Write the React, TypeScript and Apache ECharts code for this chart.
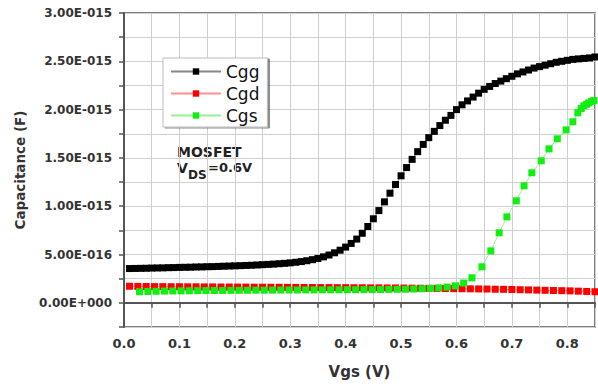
import React, { useEffect, useRef } from "react";
import * as echarts from "echarts";

// Values in units of 1e-15 F (fF)
const cggX = [
  0.01, 0.02, 0.03, 0.04, 0.05, 0.06, 0.07, 0.08, 0.09, 0.1,
  0.11, 0.12, 0.13, 0.14, 0.15, 0.16, 0.17, 0.18, 0.19, 0.2,
  0.21, 0.22, 0.23, 0.24, 0.25, 0.26, 0.27, 0.28, 0.29, 0.3,
  0.31, 0.32, 0.33, 0.34, 0.35, 0.36, 0.37, 0.38, 0.39, 0.4,
  0.41, 0.42, 0.43, 0.44, 0.45, 0.46, 0.47, 0.48, 0.49, 0.5,
  0.51, 0.52, 0.53, 0.54, 0.55, 0.56, 0.57, 0.58, 0.59, 0.6,
  0.61, 0.62, 0.63, 0.64, 0.65, 0.66, 0.67, 0.68, 0.69, 0.7,
  0.71, 0.72, 0.73, 0.74, 0.75, 0.76, 0.77, 0.78, 0.79, 0.8,
  0.81, 0.82, 0.83, 0.84, 0.85,
];
const cggY = [
  0.355, 0.356, 0.357, 0.358, 0.36, 0.361, 0.362, 0.364, 0.365, 0.367,
  0.368, 0.369, 0.371, 0.372, 0.374, 0.375, 0.377, 0.379, 0.381, 0.383,
  0.385, 0.387, 0.389, 0.392, 0.395, 0.398, 0.401, 0.405, 0.409, 0.414,
  0.42, 0.427, 0.436, 0.447, 0.46, 0.476, 0.495, 0.518, 0.545, 0.577,
  0.615, 0.66, 0.72, 0.79, 0.87, 0.955, 1.045, 1.135, 1.225, 1.315,
  1.4, 1.485, 1.565, 1.64, 1.71, 1.775, 1.835, 1.89, 1.94, 2.0,
  2.05, 2.09, 2.13, 2.17, 2.21, 2.24, 2.27, 2.295, 2.32, 2.345,
  2.37, 2.39, 2.41, 2.43, 2.445, 2.46, 2.475, 2.49, 2.5, 2.51,
  2.52, 2.525, 2.53, 2.535, 2.545,
];

const cgdX = [
  0.01, 0.025, 0.04, 0.055, 0.07, 0.085, 0.1, 0.115, 0.13, 0.145,
  0.16, 0.175, 0.19, 0.205, 0.22, 0.235, 0.25, 0.265, 0.28, 0.295,
  0.31, 0.325, 0.34, 0.355, 0.37, 0.385, 0.4, 0.415, 0.43, 0.445,
  0.46, 0.475, 0.49, 0.505, 0.52, 0.535, 0.55, 0.565, 0.58, 0.595,
  0.61, 0.625, 0.64, 0.655, 0.67, 0.685, 0.7, 0.715, 0.73, 0.745,
  0.76, 0.775, 0.79, 0.805, 0.82, 0.835, 0.85,
];
const cgdY = [
  0.172, 0.17, 0.169, 0.168, 0.168, 0.167, 0.167, 0.166, 0.166, 0.165,
  0.165, 0.164, 0.164, 0.163, 0.163, 0.162, 0.162, 0.161, 0.161, 0.16,
  0.16, 0.159, 0.159, 0.158, 0.158, 0.157, 0.157, 0.156, 0.156, 0.155,
  0.155, 0.154, 0.154, 0.153, 0.152, 0.151, 0.15, 0.149, 0.148, 0.147,
  0.146, 0.145, 0.144, 0.143, 0.141, 0.14, 0.138, 0.136, 0.134, 0.132,
  0.13, 0.128, 0.126, 0.124, 0.121, 0.118, 0.115,
];

const cgsX = [
  0.028, 0.043, 0.058, 0.073, 0.088, 0.103, 0.118, 0.133, 0.148, 0.163,
  0.178, 0.193, 0.208, 0.223, 0.238, 0.253, 0.268, 0.283, 0.298, 0.313,
  0.328, 0.343, 0.358, 0.373, 0.388, 0.403, 0.418, 0.433, 0.448, 0.463,
  0.478, 0.493, 0.508, 0.523, 0.538, 0.553, 0.568, 0.583, 0.598, 0.613,
  0.628, 0.646, 0.662, 0.677, 0.691, 0.708, 0.722, 0.736, 0.753, 0.767,
  0.782, 0.798, 0.81, 0.819, 0.825, 0.83, 0.835, 0.839, 0.844, 0.848,
];
const cgsY = [
  0.115, 0.118, 0.12, 0.122, 0.123, 0.124, 0.125, 0.126, 0.127, 0.128,
  0.128, 0.129, 0.13, 0.13, 0.131, 0.131, 0.132, 0.132, 0.133, 0.133,
  0.134, 0.134, 0.135, 0.135, 0.135, 0.136, 0.136, 0.137, 0.137, 0.138,
  0.139, 0.14, 0.141, 0.143, 0.146, 0.15, 0.155, 0.163, 0.176, 0.205,
  0.259, 0.373, 0.538, 0.725, 0.89, 1.056, 1.211, 1.346, 1.47, 1.594,
  1.698, 1.79, 1.874, 1.967, 2.01, 2.04, 2.055, 2.07, 2.085, 2.095,
];

const seriesNames = ["Cgg", "Cgd", "Cgs"];

const pair = (xs: number[], ys: number[]) => xs.map((x, i) => [x, ys[i]]);

function sci(v: number): string {
  if (Math.abs(v) < 1e-9) return "0.00E+000";
  const val = v * 1e-15;
  const e = Math.floor(Math.log10(Math.abs(val)) + 1e-9);
  const m = val / Math.pow(10, e);
  const s = e < 0 ? "-" : "+";
  return `${m.toFixed(2)}E${s}${String(Math.abs(e)).padStart(3, "0")}`;
}

const FONT = "DejaVu Sans";

export default function App() {
  const ref = useRef<HTMLDivElement>(null);
  useEffect(() => {
    const chart = echarts.init(ref.current!, undefined, { renderer: "svg" });
    chart.setOption({
      animation: false,
      backgroundColor: "#fff",
      grid: {
        left: 124,
        right: 3,
        top: 13,
        bottom: 58,
        show: true,
        borderColor: "#555",
        borderWidth: 1.5,
      },
      xAxis: {
        type: "value",
        min: 0,
        max: 0.85,
        interval: 0.05,
        name: "Vgs (V)",
        nameLocation: "middle",
        nameGap: 37,
        nameTextStyle: { fontFamily: FONT, fontWeight: "bold", fontSize: 15, color: "#333" },
        axisLine: { show: true, lineStyle: { color: "#555", width: 2 } },
        axisTick: { show: true, length: 5, lineStyle: { color: "#555", width: 1.5 } },
        axisLabel: {
          margin: 10,
          fontFamily: FONT,
          fontWeight: "bold",
          fontSize: 13,
          color: "#333",
          formatter: (v: number) =>
            Math.abs(v * 10 - Math.round(v * 10)) < 1e-6 && v < 0.81 ? v.toFixed(1) : "",
        },
        splitLine: { show: true, lineStyle: { color: "#cfcfcf", width: 1 } },
      },
      yAxis: {
        type: "value",
        min: -0.25,
        max: 3,
        interval: 0.25,
        name: "Capacitance (F)",
        nameLocation: "middle",
        nameGap: 97,
        nameTextStyle: { fontFamily: FONT, fontWeight: "bold", fontSize: 13.5, color: "#333" },
        axisLine: { show: true, lineStyle: { color: "#555", width: 2 } },
        axisTick: { show: true, length: 5, lineStyle: { color: "#555", width: 1.5 } },
        axisLabel: {
          margin: 12,
          fontFamily: FONT,
          fontWeight: "bold",
          fontSize: 12,
          color: "#333",
          formatter: (v: number) =>
            v > -0.01 && Math.abs(v * 2 - Math.round(v * 2)) < 1e-6 ? sci(v) : "",
        },
        splitLine: { show: true, lineStyle: { color: "#cfcfcf", width: 1 } },
      },
      legend: {
        orient: "vertical",
        left: 163,
        top: 58,
        data: seriesNames,
        itemWidth: 50,
        itemHeight: 8,
        itemGap: 5,
        padding: [5, 8, 3, 7],
        backgroundColor: "#fff",
        borderColor: "#bbb",
        borderWidth: 1,
        shadowColor: "rgba(0,0,0,0.45)",
        shadowOffsetX: 2,
        shadowOffsetY: 1,
        shadowBlur: 0,
        textStyle: { fontFamily: FONT, fontSize: 17, color: "#111" },
      },
      series: [
        {
          name: seriesNames[0],
          type: "line",
          data: pair(cggX, cggY),
          symbol: "rect",
          symbolSize: 7,
          itemStyle: { color: "#000" },
          lineStyle: { color: "#888", width: 1 },
        },
        {
          name: seriesNames[1],
          type: "line",
          data: pair(cgdX, cgdY),
          symbol: "rect",
          symbolSize: 7,
          itemStyle: { color: "#ff0000" },
          lineStyle: { color: "#ff9090", width: 1 },
        },
        {
          name: seriesNames[2],
          type: "line",
          data: pair(cgsX, cgsY),
          symbol: "rect",
          symbolSize: 7,
          itemStyle: { color: "#11ee11" },
          lineStyle: { color: "#99ee99", width: 1 },
        },
      ],
      graphic: [
        {
          type: "text",
          left: 177,
          top: 145,
          style: { text: "MOSFET", fontFamily: FONT, fontWeight: "bold", fontSize: 14, fill: "#222" },
        },
        {
          type: "text",
          left: 177,
          top: 161,
          style: { text: "V", fontFamily: FONT, fontWeight: "bold", fontSize: 14, fill: "#222" },
        },
        {
          type: "text",
          left: 188,
          top: 169,
          style: { text: "DS", fontFamily: FONT, fontWeight: "bold", fontSize: 12, fill: "#222" },
        },
        {
          type: "text",
          left: 208,
          top: 161,
          style: { text: "=0.6V", fontFamily: FONT, fontWeight: "bold", fontSize: 13, fill: "#222" },
        },
      ],
    });
    return () => chart.dispose();
  }, []);
  return (
    <div
      ref={ref}
      style={{ position: "absolute", left: 0, top: 0, width: 598, height: 385 }}
    />
  );
}
